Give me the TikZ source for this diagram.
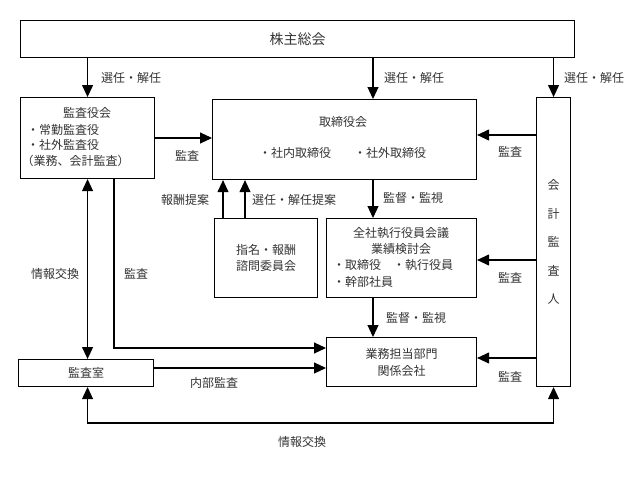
\documentclass[tikz,border=0pt]{standalone}
\usepackage{fontspec}
\setmainfont{Noto Sans CJK JP}
\usetikzlibrary{arrows.meta,calc}
\begin{document}
\begin{tikzpicture}[x=1pt,y=-1pt,
  box/.style={draw, line width=1.1pt, anchor=north west, inner sep=0pt, text=black!80, font=\fontsize{12}{14}\selectfont},
  lbl/.style={text=black!80, font=\fontsize{12}{14}\selectfont, inner sep=0pt},
  arr/.style={line width=1.1pt, -{Triangle[length=12pt,width=11pt]}},
  darr/.style={line width=1.1pt, {Triangle[length=12pt,width=11pt]}-{Triangle[length=12pt,width=11pt]}},
]
\useasboundingbox (0,0) rectangle (629,482);

% boxes
\node[box, minimum width=554pt, minimum height=37pt, font=\fontsize{14}{16}\selectfont] (sh) at (20,20) {株主総会};
\node[box, minimum width=134pt, minimum height=81pt] (kan) at (20,97) {};
\node[box, minimum width=264pt, minimum height=80pt] (tori) at (212,99) {};
\node[box, minimum width=34pt, minimum height=289pt, align=center, font=\fontsize{12}{28.5}\selectfont] (kaikei) at (536,97) {会\\計\\監\\査\\人};
\node[box, minimum width=103pt, minimum height=79pt, align=center, font=\fontsize{12}{16}\selectfont] (shimei) at (214,218) {指名・報酬\\諮問委員会};
\node[box, minimum width=150pt, minimum height=79pt] (zensha) at (326,218) {};
\node[box, minimum width=150pt, minimum height=49pt, align=center, font=\fontsize{12}{17}\selectfont] (gyomu) at (326,337) {業務担当部門\\関係会社};
\node[box, minimum width=135pt, minimum height=27pt] (shitsu) at (18,359) {監査室};

% texts inside boxes
\node[lbl] (kanT) at (87,113) {監査役会};
\node[lbl, anchor=west] (kan1) at (27,130) {・常勤監査役};
\node[lbl, anchor=west] (kan2) at (27,145) {・社外監査役};
\node[lbl] (kan3) at (75.5,161) {（業務、会計監査）};
\node[lbl] (toriT) at (343,122) {取締役会};
\node[lbl] (tori1) at (295,153) {・社内取締役};
\node[lbl] (tori2) at (390,153) {・社外取締役};
\node[lbl] (zT1) at (401,233) {全社執行役員会議};
\node[lbl] (zT2) at (401,249) {業績検討会};
\node[lbl, anchor=west] (z1) at (333,265) {・取締役};
\node[lbl, anchor=west] (z2) at (393,265) {・執行役員};
\node[lbl, anchor=west] (z3) at (333,282) {・幹部社員};

% helper coordinates
\coordinate (cx) at (373,0);
\coordinate (a1) at (223,0);
\coordinate (a2) at (245,0);
\coordinate (kx) at (114,0);
\coordinate (r1) at (0,138);
\coordinate (r2) at (0,135);
\coordinate (r3) at (0,260);
\coordinate (r4) at (0,358);
\coordinate (r5) at (0,348);
\coordinate (r6) at (0,368);
\coordinate (bot) at (0,423);

% connectors
\draw[arr] (sh.south -| kan.north) -- (kan.north);
\draw[arr] (sh.south -| cx) -- (tori.north -| cx);
\draw[arr] (sh.south -| kaikei.north) -- (kaikei.north);
\draw[arr] (kan.east |- r1) -- (tori.west |- r1);
\draw[arr] (kaikei.west |- r2) -- (tori.east |- r2);
\draw[arr] (kaikei.west |- r3) -- (zensha.east |- r3);
\draw[arr] (kaikei.west |- r4) -- (gyomu.east |- r4);
\draw[arr] (shimei.north -| a1) -- (tori.south -| a1);
\draw[arr] (shimei.north -| a2) -- (tori.south -| a2);
\draw[arr] (tori.south -| cx) -- (zensha.north -| cx);
\draw[arr] (zensha.south -| cx) -- (gyomu.north -| cx);
\draw[darr] (kan.south) -- (kan.south |- shitsu.north);
\draw[arr] (kan.south -| kx) -- (kx |- r5) -- (gyomu.west |- r5);
\draw[arr] (shitsu.east |- r6) -- (gyomu.west |- r6);
\draw[darr] (shitsu.south -| kan.south) -- (kan.south |- bot) -- (kaikei.south |- bot) -- (kaikei.south);

% labels
\node[lbl, anchor=west] (l1) at (101,78) {選任・解任};
\node[lbl, anchor=west] (l2) at (384,78) {選任・解任};
\node[lbl, anchor=west] (l3) at (564,78) {選任・解任};
\node[lbl] (l4) at (187,156) {監査};
\node[lbl] (l5) at (185,200) {報酬提案};
\node[lbl, anchor=west] (l6) at (252,200) {選任・解任提案};
\node[lbl, anchor=west] (l7) at (383,198) {監督・監視};
\node[lbl] (l8) at (510,152) {監査};
\node[lbl] (l9) at (510,278) {監査};
\node[lbl] (l10) at (510,377) {監査};
\node[lbl] (l11) at (55,274) {情報交換};
\node[lbl] (l12) at (136,274) {監査};
\node[lbl, anchor=west] (l13) at (386,318) {監督・監視};
\node[lbl] (l14) at (214,383) {内部監査};
\node[lbl] (l15) at (302,442) {情報交換};
\end{tikzpicture}
\end{document}
